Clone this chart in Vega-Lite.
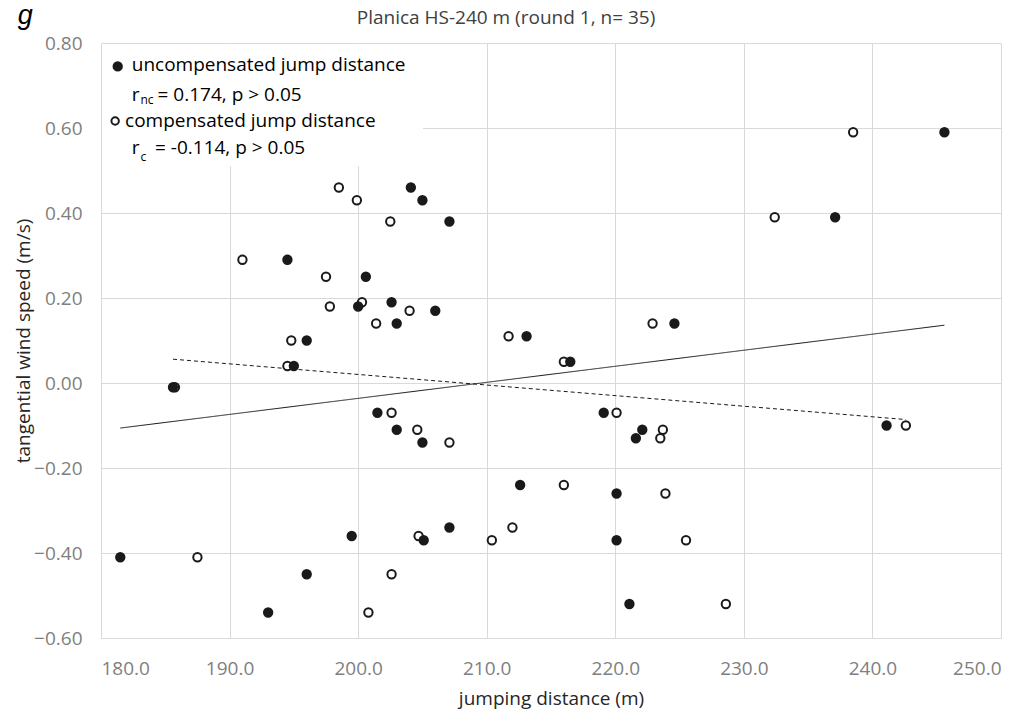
{
  "$schema": "https://vega.github.io/schema/vega-lite/v6.json",
  "autosize": "none",
  "width": 900,
  "height": 595,
  "padding": {"left": 101, "top": 43, "right": 31, "bottom": 74},
  "background": "white",
  "title": {
    "text": "Planica HS-240 m (round 1, n= 35)",
    "frame": "group",
    "anchor": "middle",
    "dx": -45,
    "font": "Open Sans",
    "fontSize": 19,
    "fontWeight": "normal",
    "color": "#404040",
    "offset": -25.5
  },
  "config": {
    "view": {"stroke": null},
    "axis": {
      "labelFont": "Open Sans",
      "labelFontSize": 19,
      "labelColor": "#7f7f7f",
      "titleFont": "Open Sans",
      "titleFontSize": 19,
      "titleFontWeight": "normal",
      "titleColor": "#262626",
      "gridColor": "#d9d9d9",
      "gridWidth": 1,
      "grid": true,
      "domainColor": "#d9d9d9",
      "ticks": false
    }
  },
  "data": {"values": [{"anchor": 1}]},
  "datasets": {
    "jumps": [
      {"distance": 238.5, "wind": 0.59, "type": "compensated"},
      {"distance": 232.4, "wind": 0.39, "type": "compensated"},
      {"distance": 198.5, "wind": 0.46, "type": "compensated"},
      {"distance": 199.9, "wind": 0.43, "type": "compensated"},
      {"distance": 202.5, "wind": 0.38, "type": "compensated"},
      {"distance": 191.0, "wind": 0.29, "type": "compensated"},
      {"distance": 197.5, "wind": 0.25, "type": "compensated"},
      {"distance": 200.3, "wind": 0.19, "type": "compensated"},
      {"distance": 197.8, "wind": 0.18, "type": "compensated"},
      {"distance": 204.0, "wind": 0.17, "type": "compensated"},
      {"distance": 201.4, "wind": 0.14, "type": "compensated"},
      {"distance": 222.9, "wind": 0.14, "type": "compensated"},
      {"distance": 211.7, "wind": 0.11, "type": "compensated"},
      {"distance": 194.8, "wind": 0.10, "type": "compensated"},
      {"distance": 216.0, "wind": 0.05, "type": "compensated"},
      {"distance": 194.5, "wind": 0.04, "type": "compensated"},
      {"distance": 185.75, "wind": -0.01, "type": "compensated"},
      {"distance": 202.6, "wind": -0.07, "type": "compensated"},
      {"distance": 220.1, "wind": -0.07, "type": "compensated"},
      {"distance": 242.6, "wind": -0.10, "type": "compensated"},
      {"distance": 204.6, "wind": -0.11, "type": "compensated"},
      {"distance": 223.7, "wind": -0.11, "type": "compensated"},
      {"distance": 223.5, "wind": -0.13, "type": "compensated"},
      {"distance": 207.1, "wind": -0.14, "type": "compensated"},
      {"distance": 216.0, "wind": -0.24, "type": "compensated"},
      {"distance": 223.9, "wind": -0.26, "type": "compensated"},
      {"distance": 212.0, "wind": -0.34, "type": "compensated"},
      {"distance": 204.7, "wind": -0.36, "type": "compensated"},
      {"distance": 210.4, "wind": -0.37, "type": "compensated"},
      {"distance": 225.5, "wind": -0.37, "type": "compensated"},
      {"distance": 187.5, "wind": -0.41, "type": "compensated"},
      {"distance": 202.6, "wind": -0.45, "type": "compensated"},
      {"distance": 228.6, "wind": -0.52, "type": "compensated"},
      {"distance": 200.8, "wind": -0.54, "type": "compensated"},
      {"distance": 245.6, "wind": 0.59, "type": "uncompensated"},
      {"distance": 237.1, "wind": 0.39, "type": "uncompensated"},
      {"distance": 204.1, "wind": 0.46, "type": "uncompensated"},
      {"distance": 205.0, "wind": 0.43, "type": "uncompensated"},
      {"distance": 207.1, "wind": 0.38, "type": "uncompensated"},
      {"distance": 194.5, "wind": 0.29, "type": "uncompensated"},
      {"distance": 200.6, "wind": 0.25, "type": "uncompensated"},
      {"distance": 202.6, "wind": 0.19, "type": "uncompensated"},
      {"distance": 200.0, "wind": 0.18, "type": "uncompensated"},
      {"distance": 206.0, "wind": 0.17, "type": "uncompensated"},
      {"distance": 203.0, "wind": 0.14, "type": "uncompensated"},
      {"distance": 224.6, "wind": 0.14, "type": "uncompensated"},
      {"distance": 213.1, "wind": 0.11, "type": "uncompensated"},
      {"distance": 196.0, "wind": 0.10, "type": "uncompensated"},
      {"distance": 216.5, "wind": 0.05, "type": "uncompensated"},
      {"distance": 195.0, "wind": 0.04, "type": "uncompensated"},
      {"distance": 185.6, "wind": -0.01, "type": "uncompensated"},
      {"distance": 201.5, "wind": -0.07, "type": "uncompensated"},
      {"distance": 219.1, "wind": -0.07, "type": "uncompensated"},
      {"distance": 241.1, "wind": -0.10, "type": "uncompensated"},
      {"distance": 203.0, "wind": -0.11, "type": "uncompensated"},
      {"distance": 222.1, "wind": -0.11, "type": "uncompensated"},
      {"distance": 221.6, "wind": -0.13, "type": "uncompensated"},
      {"distance": 205.0, "wind": -0.14, "type": "uncompensated"},
      {"distance": 212.6, "wind": -0.24, "type": "uncompensated"},
      {"distance": 220.1, "wind": -0.26, "type": "uncompensated"},
      {"distance": 207.1, "wind": -0.34, "type": "uncompensated"},
      {"distance": 199.5, "wind": -0.36, "type": "uncompensated"},
      {"distance": 205.1, "wind": -0.37, "type": "uncompensated"},
      {"distance": 220.1, "wind": -0.37, "type": "uncompensated"},
      {"distance": 181.5, "wind": -0.41, "type": "uncompensated"},
      {"distance": 196.0, "wind": -0.45, "type": "uncompensated"},
      {"distance": 221.1, "wind": -0.52, "type": "uncompensated"},
      {"distance": 193.0, "wind": -0.54, "type": "uncompensated"}
    ],
    "fits": [
      {"fit": "uncompensated", "distance": 181.5, "wind": -0.106},
      {"fit": "uncompensated", "distance": 245.6, "wind": 0.136},
      {"fit": "compensated", "distance": 185.6, "wind": 0.056},
      {"fit": "compensated", "distance": 242.6, "wind": -0.086}
    ]
  },
  "layer": [
    {
      "mark": {"type": "rect", "fill": "white"},
      "encoding": {
        "x": {"datum": 180.08, "type": "quantitative", "scale": {"domain": [180, 250], "nice": false, "zero": false},
              "axis": {"values": [180, 190, 200, 210, 220, 230, 240, 250], "format": ".1f", "labelPadding": 21, "title": "jumping distance (m)", "titlePadding": 11, "grid": true}},
        "x2": {"datum": 205.05},
        "y": {"datum": 0.797, "type": "quantitative", "scale": {"domain": [-0.6, 0.8], "nice": false, "zero": false},
              "axis": {"values": [-0.6, -0.4, -0.2, 0, 0.2, 0.4, 0.6, 0.8], "format": ".2f", "labelPadding": 19, "title": "tangential wind speed (m/s)", "titlePadding": 0, "domain": false, "grid": true}},
        "y2": {"datum": 0.51}
      }
    },
    {
      "data": {"name": "fits"},
      "mark": {"type": "line", "color": "#1a1a1a", "strokeWidth": 1},
      "encoding": {
        "x": {"field": "distance", "type": "quantitative", "title": "jumping distance (m)", "scale": {"domain": [180, 250], "nice": false, "zero": false}},
        "y": {"field": "wind", "type": "quantitative", "title": "tangential wind speed (m/s)", "scale": {"domain": [-0.6, 0.8], "nice": false, "zero": false}},
        "detail": {"field": "fit"},
        "strokeDash": {"field": "fit", "type": "nominal", "scale": {"domain": ["uncompensated", "compensated"], "range": [[1, 0], [4, 3]]}, "legend": null}
      }
    },
    {
      "data": {"name": "jumps"},
      "mark": {"type": "point", "shape": "circle", "filled": true, "size": 70, "strokeWidth": 2, "stroke": "#1a1a1a", "opacity": 1},
      "encoding": {
        "x": {"field": "distance", "type": "quantitative", "title": "jumping distance (m)", "scale": {"domain": [180, 250], "nice": false, "zero": false}},
        "y": {"field": "wind", "type": "quantitative", "title": "tangential wind speed (m/s)", "scale": {"domain": [-0.6, 0.8], "nice": false, "zero": false}},
        "fill": {"field": "type", "type": "nominal", "scale": {"domain": ["uncompensated", "compensated"], "range": ["#1a1a1a", "#ffffff"]}, "legend": null}
      }
    },
    {
      "mark": {"type": "point", "shape": "circle", "filled": true, "size": 70, "strokeWidth": 2, "stroke": "#1a1a1a", "fill": "#1a1a1a", "opacity": 1},
      "encoding": {"x": {"datum": 181.3, "type": "quantitative", "scale": {"domain": [180, 250], "nice": false, "zero": false}}, "y": {"datum": 0.745, "type": "quantitative", "scale": {"domain": [-0.6, 0.8], "nice": false, "zero": false}}}
    },
    {
      "mark": {"type": "point", "shape": "circle", "filled": true, "size": 55, "strokeWidth": 2, "stroke": "#1a1a1a", "fill": "#ffffff", "opacity": 1},
      "encoding": {"x": {"datum": 181.1, "type": "quantitative", "scale": {"domain": [180, 250], "nice": false, "zero": false}}, "y": {"datum": 0.6165, "type": "quantitative", "scale": {"domain": [-0.6, 0.8], "nice": false, "zero": false}}}
    },
    {
      "mark": {"type": "text", "align": "left", "baseline": "middle", "font": "Open Sans", "fontSize": 19, "color": "#000000"},
      "encoding": {"x": {"datum": 182.39, "type": "quantitative", "scale": {"domain": [180, 250], "nice": false, "zero": false}}, "y": {"datum": 0.7475, "type": "quantitative", "scale": {"domain": [-0.6, 0.8], "nice": false, "zero": false}}, "text": {"value": "uncompensated jump distance"}}
    },
    {
      "mark": {"type": "text", "align": "left", "baseline": "middle", "font": "Open Sans", "fontSize": 19, "color": "#000000"},
      "encoding": {"x": {"datum": 182.39, "type": "quantitative", "scale": {"domain": [180, 250], "nice": false, "zero": false}}, "y": {"datum": 0.677, "type": "quantitative", "scale": {"domain": [-0.6, 0.8], "nice": false, "zero": false}}, "text": {"value": "r"}}
    },
    {
      "mark": {"type": "text", "align": "left", "baseline": "middle", "font": "Open Sans", "fontSize": 12, "color": "#000000"},
      "encoding": {"x": {"datum": 183.07, "type": "quantitative", "scale": {"domain": [180, 250], "nice": false, "zero": false}}, "y": {"datum": 0.665, "type": "quantitative", "scale": {"domain": [-0.6, 0.8], "nice": false, "zero": false}}, "text": {"value": "nc"}}
    },
    {
      "mark": {"type": "text", "align": "left", "baseline": "middle", "font": "Open Sans", "fontSize": 19, "color": "#000000"},
      "encoding": {"x": {"datum": 184.4, "type": "quantitative", "scale": {"domain": [180, 250], "nice": false, "zero": false}}, "y": {"datum": 0.677, "type": "quantitative", "scale": {"domain": [-0.6, 0.8], "nice": false, "zero": false}}, "text": {"value": "= 0.174, p > 0.05"}}
    },
    {
      "mark": {"type": "text", "align": "left", "baseline": "middle", "font": "Open Sans", "fontSize": 19, "color": "#000000"},
      "encoding": {"x": {"datum": 181.87, "type": "quantitative", "scale": {"domain": [180, 250], "nice": false, "zero": false}}, "y": {"datum": 0.616, "type": "quantitative", "scale": {"domain": [-0.6, 0.8], "nice": false, "zero": false}}, "text": {"value": "compensated jump distance"}}
    },
    {
      "mark": {"type": "text", "align": "left", "baseline": "middle", "font": "Open Sans", "fontSize": 19, "color": "#000000"},
      "encoding": {"x": {"datum": 182.39, "type": "quantitative", "scale": {"domain": [180, 250], "nice": false, "zero": false}}, "y": {"datum": 0.552, "type": "quantitative", "scale": {"domain": [-0.6, 0.8], "nice": false, "zero": false}}, "text": {"value": "r"}}
    },
    {
      "mark": {"type": "text", "align": "left", "baseline": "middle", "font": "Open Sans", "fontSize": 12, "color": "#000000"},
      "encoding": {"x": {"datum": 183.07, "type": "quantitative", "scale": {"domain": [180, 250], "nice": false, "zero": false}}, "y": {"datum": 0.532, "type": "quantitative", "scale": {"domain": [-0.6, 0.8], "nice": false, "zero": false}}, "text": {"value": "c"}}
    },
    {
      "mark": {"type": "text", "align": "left", "baseline": "middle", "font": "Open Sans", "fontSize": 19, "color": "#000000"},
      "encoding": {"x": {"datum": 184.2, "type": "quantitative", "scale": {"domain": [180, 250], "nice": false, "zero": false}}, "y": {"datum": 0.552, "type": "quantitative", "scale": {"domain": [-0.6, 0.8], "nice": false, "zero": false}}, "text": {"value": "= -0.114, p > 0.05"}}
    },
    {
      "mark": {"type": "text", "align": "center", "baseline": "alphabetic", "font": "Liberation Sans", "fontStyle": "italic", "fontSize": 27, "color": "#000000"},
      "encoding": {"x": {"datum": 174.1, "type": "quantitative", "scale": {"domain": [180, 250], "nice": false, "zero": false}}, "y": {"datum": 0.844, "type": "quantitative", "scale": {"domain": [-0.6, 0.8], "nice": false, "zero": false}}, "text": {"value": "g"}}
    }
  ]
}
